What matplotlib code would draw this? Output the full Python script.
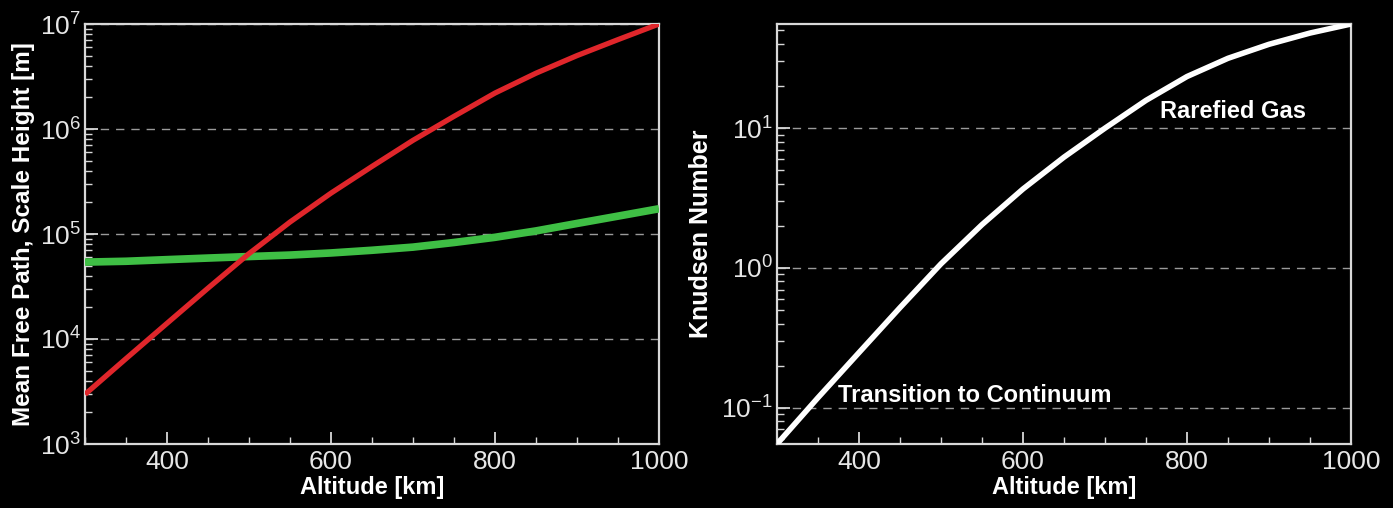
import matplotlib
matplotlib.use("Agg")
import matplotlib.pyplot as plt
from matplotlib.ticker import LogLocator, MultipleLocator, FixedLocator, NullFormatter

# Altitude grid [km]
altitude = [300, 350, 400, 450, 500, 550, 600, 650, 700, 750, 800, 850, 900, 950, 1000]

# Mean free path [m]
mean_free_path = [2.97e3, 6.5e3, 1.41e4, 3.05e4, 6.5e4, 1.3e5, 2.45e5, 4.4e5,
                  7.8e5, 1.32e6, 2.2e6, 3.4e6, 5.0e6, 7.1e6, 1.0e7]

# Atmospheric scale height [m]
scale_height = [5.4e4, 5.5e4, 5.7e4, 5.9e4, 6.1e4, 6.3e4, 6.6e4, 7.0e4,
                7.5e4, 8.3e4, 9.3e4, 1.07e5, 1.26e5, 1.48e5, 1.74e5]

# Knudsen number
knudsen = [0.055, 0.118, 0.248, 0.52, 1.07, 2.04, 3.67, 6.2,
           10.0, 15.8, 23.4, 31.6, 39.8, 47.9, 55.6]

x_major = [400, 600, 800, 1000]

plt.rcParams['font.family'] = ['Liberation Sans', 'DejaVu Sans']
plt.rcParams['mathtext.fontset'] = 'custom'
plt.rcParams['mathtext.rm'] = 'Liberation Sans'
plt.rcParams['mathtext.it'] = 'Liberation Sans:italic'
plt.rcParams['mathtext.bf'] = 'Liberation Sans:bold'
plt.rcParams['axes.unicode_minus'] = False

W, H = 1393, 508
fig = plt.figure(figsize=(W / 100, H / 100), dpi=100, facecolor='black')

fg = '#e6e6e6'
grid_c = '#9a9a9a'


def style_axes(ax):
    ax.set_facecolor('black')
    for s in ax.spines.values():
        s.set_color('#d8d8d8')
        s.set_linewidth(1.6)
    ax.set_xscale('linear')
    ax.set_yscale('log')
    ax.set_xlim(300, 1000)
    ax.xaxis.set_major_locator(FixedLocator(x_major))
    ax.xaxis.set_minor_locator(MultipleLocator(50))
    ax.yaxis.set_major_locator(LogLocator(base=10, numticks=20))
    ax.yaxis.set_minor_locator(LogLocator(base=10, subs=range(2, 10), numticks=20))
    ax.yaxis.set_minor_formatter(NullFormatter())
    ax.tick_params(which='both', direction='in', colors='#d8d8d8',
                   labelcolor=fg, labelsize=19)
    ax.tick_params(which='major', length=9, width=1.3)
    ax.tick_params(which='minor', length=5, width=1.0)
    ax.tick_params(axis='x', pad=4)
    ax.tick_params(axis='y', pad=3)
    ax.grid(True, which='major', axis='y', color=grid_c, linestyle=(0, (6, 5)),
            linewidth=1.0)
    ax.set_xlabel('Altitude [km]', color='white', fontsize=17, fontweight='bold',
                  labelpad=2)


# Left panel: mean free path and scale height
ax1 = fig.add_axes([85 / W, (H - 444) / H, 574 / W, 420 / H])
style_axes(ax1)
ax1.set_ylim(1e3, 1e7)
ax1.plot(altitude, scale_height, color='#3fbf45', linewidth=5.5,
         solid_capstyle='butt', zorder=3)
ax1.plot(altitude, mean_free_path, color='#e0262b', linewidth=3.8,
         solid_capstyle='butt', zorder=4)
ax1.set_ylabel('Mean Free Path, Scale Height [m]', color='white', fontsize=17.5,
               fontweight='bold', labelpad=3)

# Right panel: Knudsen number
ax2 = fig.add_axes([777 / W, (H - 444) / H, 574 / W, 420 / H])
style_axes(ax2)
ax2.set_ylim(0.055, 55.6)
ax2.plot(altitude, knudsen, color='white', linewidth=4.0, zorder=4)
ax2.set_ylabel('Knudsen Number', color='white', fontsize=18,
               fontweight='bold', labelpad=6)
ax2.text(856, 13.2, 'Rarefied Gas', color='white', fontsize=17,
         fontweight='bold', ha='center', va='center')
ax2.text(541, 0.122, 'Transition to Continuum', color='white', fontsize=17,
         fontweight='bold', ha='center', va='center')

fig.savefig('out.png', dpi=100, facecolor='black')
